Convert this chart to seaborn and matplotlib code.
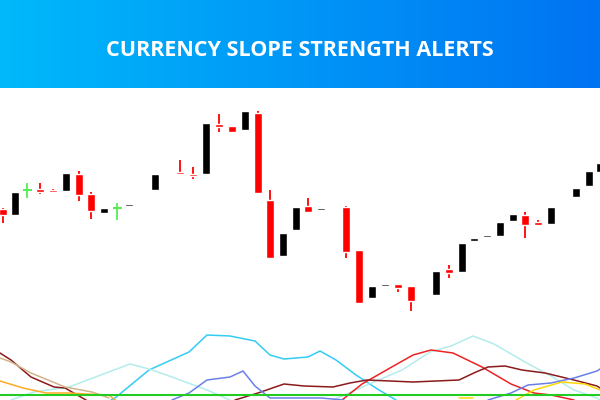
import matplotlib
matplotlib.use("Agg")
import matplotlib.pyplot as plt
import seaborn as sns
import numpy as np
from matplotlib.colors import LinearSegmentedColormap

# candles: x position, open, close, high, low (price units)
cx = [3, 15, 27, 40, 53, 66, 79, 91, 104, 117, 129, 142, 155, 180, 193, 206, 219, 232, 245,
      258, 270, 283, 296, 308, 321, 334, 346, 359, 372, 385, 398, 411, 423, 436, 449, 462,
      474, 487, 500, 513, 525, 538, 551, 576, 589, 600]
c_open = [191, 185, 210, 211, 210, 209, 226, 206, 187, 192, 194, 209, 210, 228, 226, 226, 276, 274, 270,
          287, 200, 144, 170, 194, 190, 191, 193, 150, 102, 114, 116, 114, 101, 105, 131, 128,
          159, 163, 164, 179, 185, 178, 176, 203, 214, 228]
c_close = [185, 208, 210, 208, 208, 227, 205, 189, 192, 192, 196, 210, 226, 226, 224, 277, 273, 268, 289,
           207, 142, 167, 193, 188, 192, 191, 148, 97, 114, 116, 112, 99, 102, 129, 127, 157,
           162, 165, 178, 186, 175, 175, 193, 212, 229, 237]
c_high = [192, 185, 217, 217, 211, 227, 229, 208, 192, 197, 196, 210, 226, 240, 233, 277, 286, 274, 289,
          289, 210, 167, 193, 202, 192, 191, 194, 150, 114, 116, 116, 114, 102, 129, 135, 157,
          162, 165, 178, 186, 188, 180, 193, 212, 229, 237]
c_low = [177, 185, 202, 206, 207, 209, 199, 181, 187, 180, 194, 209, 210, 225, 221, 226, 268, 268, 270,
         207, 142, 144, 170, 188, 190, 191, 142, 97, 102, 114, 108, 89, 101, 105, 122, 128,
         159, 163, 164, 179, 162, 174, 176, 203, 214, 228]
c_color = ['r', 'k', 'g', 'r', 'r', 'k', 'r', 'r', 'k', 'g', 'k', 'k', 'k', 'r', 'r', 'k', 'r', 'r', 'k',
           'r', 'r', 'k', 'k', 'r', 'k', 'k', 'r', 'r', 'k', 'k', 'r', 'r', 'k', 'k', 'r', 'k',
           'k', 'k', 'k', 'k', 'r', 'r', 'k', 'k', 'k', 'k']

# indicator lines (x, value)
ind_lines = {
    "#33ccf5": ([111, 115, 149, 189, 207, 230, 255, 270, 284, 308, 320, 336, 356, 379, 396],
                [0, 2, 30, 48, 65, 64, 59, 45, 41, 43, 49, 40, 25, 10, 0]),
    "#b4ecec": ([11, 34, 69, 130, 149, 172, 207, 230, None, 333, 367, 402, 430, 451, 473, 494, 525, 551, 574, 597, 600],
                [0, 8, 13, 36, 31, 23, 10, 0, None, 0, 15, 30, 48, 54, 64, 56, 38, 24, 10, 2, 0]),
    "#ee2222": ([342, 362, 390, 413, 431, 453, 482, 511, 534, 551, 574],
                [0, 16, 32, 45, 50, 47, 33, 16, 7, 5, 0]),
    "#8b1a1a": ([0, 11, 31, 54, 65, 86, None, 235, 258, 284, 304, 333, 350, 367, 390, 413, 436, 459, 476, 488, 505, 522, 545, 574, 597, 600],
                [47, 40, 23, 13, 12, 0, None, 0, 7, 16, 14, 13, 17, 20, 19, 18, 19, 20, 28, 33, 34, 30, 27, 20, 14, 12]),
    "#d2b48c": ([0, 11, 31, 65, 92, 109], [42, 38, 27, 13, 8, 2]),
    "#ffaa22": ([0, 23, 46, 69, 86, 109, 115], [19, 12, 7, 7, 6, 5, 0]),
    "#6a80e8": ([172, 189, 207, 230, 243, 255, 270, 321, 344, None, 488, 511, 528, 551, 574, 597, 600],
                [0, 7, 20, 23, 29, 14, 2, 2, 0, None, 0, 7, 15, 17, 22, 29, 31]),
    "#ffd700": ([459, 473, None, 516, 534, 562, 585, 600], [2, 2, None, 0, 10, 18, 16, 10]),
}
green_level = 5.5

title = "CURRENCY SLOPE STRENGTH ALERTS"

sns.set_style("white")
fig = plt.figure(figsize=(6, 4), dpi=100)

# gradient banner
bax = fig.add_axes([0, 312 / 400, 1, 88 / 400])
grad = np.linspace(0, 1, 256).reshape(1, -1)
cmap = LinearSegmentedColormap.from_list("banner", ["#00b9fb", "#0073f2"])
bax.imshow(grad, aspect="auto", cmap=cmap, extent=[0, 1, 0, 1])
bax.set_axis_off()
bax.text(0.5, 0.43, title, color="white", fontsize=15.5, fontweight="bold",
         family="Open Sans", ha="center", va="center", transform=bax.transAxes)

ax = fig.add_axes([0, 0, 1, 312 / 400])
ax.set_xlim(0, 600)
ax.set_ylim(0, 312)
ax.set_axis_off()

colmap = {'r': '#ff0000', 'k': '#000000', 'g': '#55ee55'}
for x, o, c, h, l, k in zip(cx, c_open, c_close, c_high, c_low, c_color):
    col = colmap[k]
    ax.vlines(x, l, h, color=col, lw=1.3, zorder=2)
    bottom = min(o, c)
    height = max(abs(o - c), 1.2)
    if k == 'g':
        ax.hlines((o + c) / 2, x - 4.5, x + 4.5, color=col, lw=1.5, zorder=3)
    else:
        ax.bar(x, height, bottom=bottom, width=8, color=col, zorder=3)

for col, (xs, ys) in ind_lines.items():
    xs = [np.nan if v is None else v for v in xs]
    ys = [np.nan if v is None else v for v in ys]
    ax.plot(xs, ys, color=col, lw=1.1, zorder=1)
ax.axhline(green_level, color="#22cc22", lw=1.5, zorder=1)

fig.savefig("out.png", dpi=100)
